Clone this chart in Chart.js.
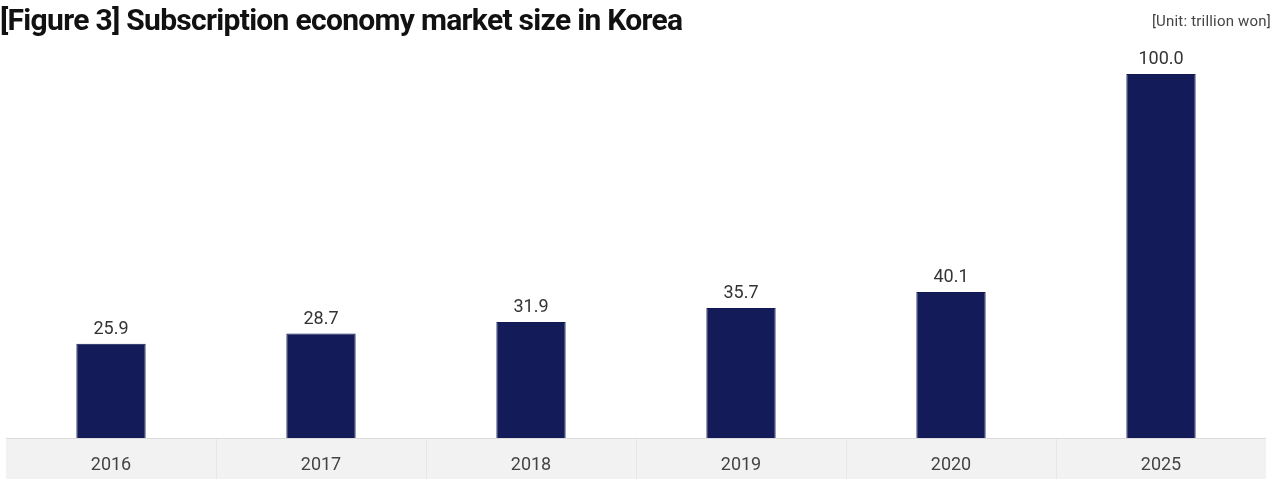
<!DOCTYPE html>
<html>
<head>
<meta charset="utf-8">
<script src="https://cdn.jsdelivr.net/npm/chart.js@4"></script>
<style>
  html, body { margin: 0; padding: 0; background: #fff; }
  #wrap { position: relative; width: 1283px; height: 479px; overflow: hidden; }
  #title { position: absolute; left: 0; top: 2px; font-family: Roboto, sans-serif; font-weight: 700;
           font-size: 30px; color: #111; letter-spacing: -0.7px; white-space: nowrap; }
  #unit { position: absolute; right: 12px; top: 12px; font-family: Roboto, sans-serif;
          font-size: 15px; color: #444; letter-spacing: 0.2px; white-space: nowrap; }
  canvas { position: absolute; left: 0; top: 0; }
</style>
</head>
<body>
<div id="wrap">
  <canvas id="chart" width="1283" height="479"></canvas>
  <div id="title">[Figure 3] Subscription economy market size in Korea</div>
  <div id="unit">[Unit: trillion won]</div>
</div>
<script>
const years = ["2016", "2017", "2018", "2019", "2020", "2025"];
const marketSize = [25.9, 28.7, 31.9, 35.7, 40.1, 100.0];

// grey category band under the axis, with thin separators
const bandPlugin = {
  id: "band",
  beforeDraw(chart) {
    const { ctx, chartArea, scales } = chart;
    const x = scales.x;
    const step = x.getPixelForValue(1) - x.getPixelForValue(0);
    ctx.save();
    ctx.fillStyle = "#f2f2f2";
    ctx.fillRect(chartArea.left, chartArea.bottom, chartArea.right - chartArea.left, chart.height - chartArea.bottom);
    ctx.strokeStyle = "#e6e6e6";
    ctx.lineWidth = 1;
    for (let i = 1; i < years.length; i++) {
      const px = Math.round(x.getPixelForValue(i) - step / 2) + 0.5;
      ctx.beginPath();
      ctx.moveTo(px, chartArea.bottom);
      ctx.lineTo(px, chart.height);
      ctx.stroke();
    }
    ctx.strokeStyle = "#dcdcdc";
    ctx.beginPath();
    ctx.moveTo(chartArea.left, chartArea.bottom + 0.5);
    ctx.lineTo(chartArea.right, chartArea.bottom + 0.5);
    ctx.stroke();
    ctx.restore();
  }
};

// value labels above each bar
const labelPlugin = {
  id: "valueLabels",
  afterDatasetsDraw(chart) {
    const { ctx } = chart;
    const meta = chart.getDatasetMeta(0);
    ctx.save();
    ctx.font = "18px Roboto, sans-serif";
    ctx.fillStyle = "#333";
    ctx.textAlign = "center";
    ctx.textBaseline = "alphabetic";
    meta.data.forEach((bar, i) => {
      ctx.fillText(marketSize[i].toFixed(1), bar.x, bar.y - 10);
    });
    ctx.restore();
  }
};

new Chart(document.getElementById("chart"), {
  type: "bar",
  data: {
    labels: years,
    datasets: [{
      data: marketSize,
      backgroundColor: "#131b59",
      borderColor: "#0f1850",
      borderWidth: 1,
      categoryPercentage: 1,
      barPercentage: 0.33
    }]
  },
  options: {
    responsive: false,
    animation: false,
    layout: { padding: { left: 6, right: 17, top: 74, bottom: 0 } },
    plugins: { legend: { display: false }, tooltip: { enabled: false } },
    scales: {
      y: { display: false, min: 0, max: 100 },
      x: {
        grid: { display: false },
        border: { display: false },
        ticks: { color: "#444", font: { family: "Roboto, sans-serif", size: 18 }, padding: 9 },
        afterFit(scale) { scale.height = 41; }
      }
    }
  },
  plugins: [bandPlugin, labelPlugin]
});
</script>
</body>
</html>
